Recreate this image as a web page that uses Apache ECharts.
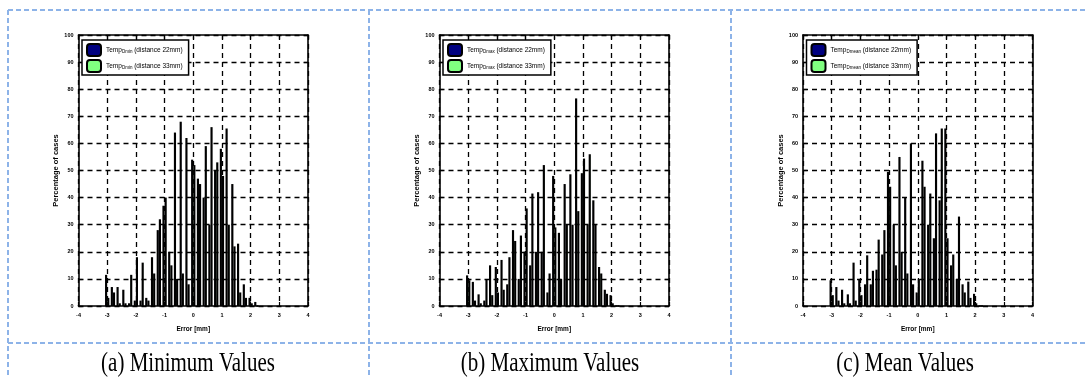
<!DOCTYPE html>
<html>
<head>
<meta charset="utf-8">
<script src="https://cdn.jsdelivr.net/npm/echarts@6/dist/echarts.min.js"></script>
<style>
html,body{margin:0;padding:0;background:#fff;}
#c{width:1085px;height:378px;}
</style>
</head>
<body>
<div id="c"></div>
<script>
// ---- data ----
const bins = [-3.0,-2.8,-2.6,-2.4,-2.2,-2.0,-1.8,-1.6,-1.4,-1.2,-1.0,-0.8,-0.6,-0.4,-0.2,0.0,0.2,0.4,0.6,0.8,1.0,1.2,1.4,1.6,1.8,2.0,2.2];

const minA  = [11.5,7,7,6,1,2,2,3,18,28,37,20,64,68,62,54,47,40,30,50,58,65.5,45,23,8,3,1.5];
const minB  = [3,5,1,1,11.5,18,16,2,12,32,40,15,10,12,8,52,45,59,66,53,48,30,22,5,3,1,0];

const maxA  = [11.3,8.9,4.3,2,15,14.4,17,8,28,10,20,15,20,20,5,48,27,45,48.6,76.6,49,30,39,14.4,6,4,0];
const maxB  = [9.5,2,1,9.7,4,5,6,18,24,26,36,41.5,42,52,12,29,10,30,30,35,54.4,56,30,12,4.5,1,0];

const meanA = [9.5,7,6,4.3,16,9.7,8,8,13.4,19,49.5,30,55,40,60,5,53.6,30,25,39,65.5,15,10,8,9,4.5,0];
const meanB = [4,2,1,1,2,4,18.7,13,24.5,28,44,15,20,12,8,10,44,41.5,63.7,65.5,25,19,33,5,3,1,0];

const seriesNames = [
  ['Temp_Dmin (distance 22mm)',  'Temp_Dmin (distance 33mm)'],
  ['Temp_Dmax (distance 22mm)',  'Temp_Dmax (distance 33mm)'],
  ['Temp_Dmean (distance 22mm)', 'Temp_Dmean (distance 33mm)']
];
const captions = ['(a) Minimum Values', '(b) Maximum Values', '(c) Mean Values'];
const xAxisName = 'Error [mm]';
const yAxisName = 'Percentage of cases';

// ---- layout ----
const panelLefts = [78.5, 439.5, 803];
const captionX = [188, 550, 905];
const gridTop = 35, gridW = 229.5, gridH = 271;
const colors = ['#000080', '#80ff80'];
const values = [[minA, minB], [maxA, maxB], [meanA, meanB]];

const grids = [], xAxes = [], yAxes = [], series = [], legends = [], graphics = [];
const tickFont = {fontSize: 5.5, color: '#000', fontFamily: 'Liberation Sans', fontWeight: 'bold'};

for (let p = 0; p < 3; p++) {
  grids.push({left: panelLefts[p], top: gridTop, width: gridW, height: gridH, show: false});
  const axLine = {show: true, onZero: false, lineStyle: {color: '#000', width: 1.6}};
  const tick = {show: true, inside: true, length: 4, lineStyle: {color: '#000', width: 1.2}};
  const split = {show: true, lineStyle: {color: '#000', width: 1.3, type: [5, 4]}};
  xAxes.push({gridIndex: p, type: 'value', min: -4, max: 4, interval: 1, position: 'bottom',
    axisLine: axLine, axisTick: tick, splitLine: split,
    axisLabel: Object.assign({margin: 6}, tickFont),
    name: xAxisName, nameLocation: 'middle', nameGap: 20,
    nameTextStyle: {fontSize: 6.5, fontWeight: 'bold', fontFamily: 'Liberation Sans', color: '#000'}});
  xAxes.push({gridIndex: p, type: 'value', min: -4, max: 4, interval: 1, position: 'top',
    axisLine: axLine, axisTick: tick, splitLine: {show: false}, axisLabel: {show: false}});
  yAxes.push({gridIndex: p, type: 'value', min: 0, max: 100, interval: 10, position: 'left',
    axisLine: axLine, axisTick: tick, splitLine: split,
    axisLabel: Object.assign({margin: 5}, tickFont),
    name: yAxisName, nameLocation: 'middle', nameGap: 18, nameRotate: 90,
    nameTextStyle: {fontSize: 7.5, fontWeight: 'bold', fontFamily: 'Liberation Sans', color: '#000'}});
  yAxes.push({gridIndex: p, type: 'value', min: 0, max: 100, interval: 10, position: 'right',
    axisLine: axLine, axisTick: tick, splitLine: {show: false}, axisLabel: {show: false}});

  for (let s = 0; s < 2; s++) {
    series.push({
      type: 'bar', name: seriesNames[p][s],
      xAxisIndex: p * 2, yAxisIndex: p * 2,
      data: bins.map((b, i) => [b, values[p][s][i]]),
      barGap: '0%', barCategoryGap: '25%',
      itemStyle: {color: colors[s], borderColor: '#000', borderWidth: 1.3},
      emphasis: {disabled: true}, animation: false
    });
  }

  legends.push({
    data: seriesNames[p], orient: 'vertical',
    left: panelLefts[p] + 3.5, top: 40,
    itemWidth: 14, itemHeight: 12, itemGap: 2,
    padding: [3, 6, 2, 4],
    backgroundColor: '#fff', borderColor: '#000', borderWidth: 1.5,
    selectedMode: false,
    formatter: function (name) {
      const m = name.match(/^Temp_(\S+)\s(.*)$/);
      return '{a|Temp}{s|' + m[1] + '}{a| ' + m[2] + '}';
    },
    textStyle: {
      fontSize: 6.5, color: '#000', fontFamily: 'Liberation Sans',
      rich: {
        a: {fontSize: 6.5, fontFamily: 'Liberation Sans', color: '#000'},
        s: {fontSize: 4.5, fontFamily: 'Liberation Sans', color: '#000', padding: [3, 0, 0, 0]}
      }
    }
  });

  graphics.push({
    type: 'text', x: captionX[p], y: 364, scaleY: 1.3, silent: true,
    style: {text: captions[p], x: 0, y: 0, textAlign: 'center', textVerticalAlign: 'middle',
      align: 'center', verticalAlign: 'middle',
      font: '21px "Liberation Serif"', fill: '#000'}
  });
}

// dashed frame
const frameStyle = {stroke: '#8db3e8', lineWidth: 2, lineDash: [5, 3]};
[[8, 10, 1085, 10], [8, 10, 8, 378], [369, 10, 369, 378], [731, 10, 731, 378], [8, 343, 1085, 343]]
  .forEach(l => graphics.push({type: 'line', silent: true, z: -1,
    shape: {x1: l[0], y1: l[1], x2: l[2], y2: l[3]}, style: frameStyle}));

const chart = echarts.init(document.getElementById('c'), null, {renderer: 'canvas'});
chart.setOption({
  animation: false,
  backgroundColor: '#fff',
  grid: grids, xAxis: xAxes, yAxis: yAxes, series: series, legend: legends,
  graphic: graphics
});
</script>
</body>
</html>
